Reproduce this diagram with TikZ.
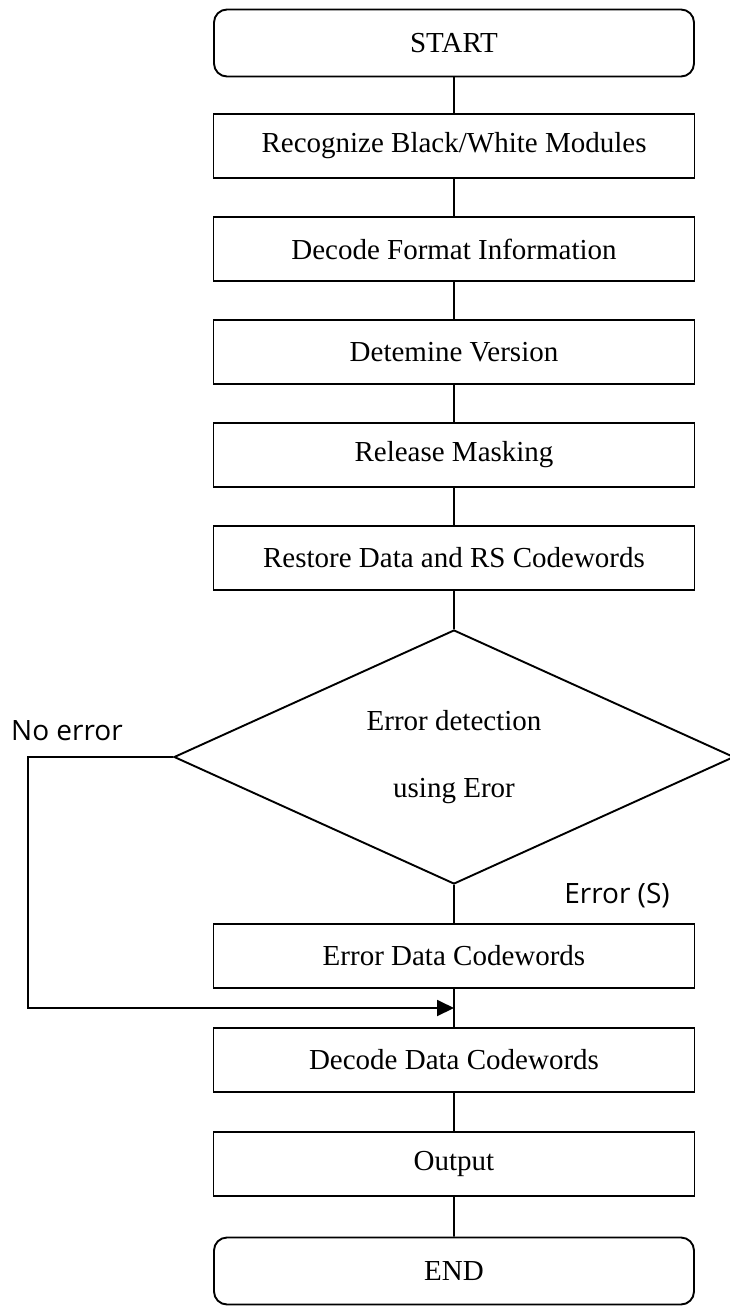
\documentclass[tikz,border=0pt]{standalone}
\usepackage{fontspec}
\setmainfont{Liberation Serif}
\newfontfamily\labelfont{Open Sans}
\usepackage{tikz}
\usetikzlibrary{shapes.geometric,arrows.meta,calc}

\begin{document}
\begin{tikzpicture}[x=1pt,y=-1pt,line width=1.9pt,
  font=\fontsize{29}{34}\selectfont,
  level distance=103pt,
  level 6/.style={level distance=199pt},
  level 7/.style={level distance=199pt},
  level 8/.style={level distance=104pt},
  level 9/.style={level distance=104pt},
  level 10/.style={level distance=107pt},
  term/.style={rectangle,rounded corners=13pt,draw,minimum width=480pt,minimum height=67pt},
  proc/.style={rectangle,draw,minimum width=481pt,minimum height=64pt},
  decision/.style={diamond,draw,align=center,inner sep=0pt,shape aspect=2.2,
    minimum width=560pt,minimum height=254pt},
  lbl/.style={font=\labelfont\fontsize{28}{32}\selectfont}]
\useasboundingbox (0,0) rectangle (729,1306);
\node [term] (start) at (454,43) {START}
    child {
  node [proc] (recog) {Recognize Black/White Modules}
  child {
  node [proc] (format) {Decode Format Information}
  child {
  node [proc] (version) {Detemine Version}
  child {
  node [proc] (mask) {Release Masking}
  child {
  node [proc] (restore) {Restore Data and RS Codewords}
  child {
  node [decision] (check) {Error detection\\[33pt]using Eror}
  child {
  node [proc] (errdata) {Error Data Codewords}
  child {
  node [proc] (decode) {Decode Data Codewords}
  child {
  node [proc] (output) {Output}
  child {
  node [term] (end) {END}
  }
  }
  }
  }
  }
  }
  }
  }
  }
  };

% labels and the no-error path
\node [lbl] (noerr) at (67,731) {No error};
\node [lbl] (err) at (617,896) {Error (S)};
\coordinate (join) at ($(errdata.south)!0.5!(decode.north)$);
\draw [-{Triangle[length=17pt,width=16pt]}] (check.west) -- ++(-145,0) |- (join);
\end{tikzpicture}
\end{document}
